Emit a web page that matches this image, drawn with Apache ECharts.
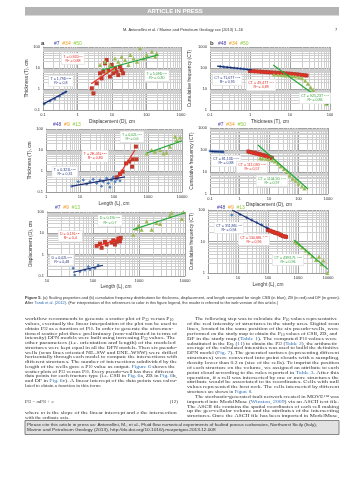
<!DOCTYPE html>
<html><head><meta charset="utf-8">
<script src="https://cdn.jsdelivr.net/npm/echarts@6/dist/echarts.min.js"></script>
<style>html,body{margin:0;padding:0;background:#fff}#c{width:359px;height:480px}</style>
</head><body><div id="c"></div>
<script>
// ================= DATA =================
// Panel a : Thickness (T) vs Displacement (D)  (#7 blue, #34 red, #50 green)
const aXTicks = [0.1, 1, 10, 100, 1000];
const aYTicks = [0.1, 1, 10, 100];
const aBlueX = [0.11, 0.16, 0.22, 0.3, 0.38, 0.45];
const aBlueY = [0.2, 0.27, 0.33, 0.45, 0.62, 0.72];
const aBlueFitX = [0.1, 0.5], aBlueFitY = [0.19, 0.78];
const aRedX = [2.6, 2.9, 3.6, 4.5, 5.0, 5.6, 6.3, 7.0, 7.8, 8.7, 9.8, 10.9, 12.2, 13.5, 15.2, 17, 19, 21];
const aRedY = [1.08, 0.62, 1.86, 5.6, 3.2, 6.7, 16.7, 24, 8, 3.9, 14, 5.6, 9.8, 6.7, 4.6, 11.5, 8, 5.6];
const aRedFitX = [2.5, 12], aRedFitY = [1.8, 10];
const aGreenX = [4.5, 6.3, 7, 8.7, 11, 12.2, 15.2, 19, 24, 30, 34, 42, 53, 65, 82, 102, 143, 180, 197];
const aGreenY = [14, 20, 6.7, 14, 9, 29, 20, 35, 24, 14, 42, 29, 20, 87, 29, 42, 60, 35, 50];
const aGreenFitX = [5, 220], aGreenFitY = [8, 42];
const aEq = [['T = 1,79D', '1,18', '0,8', 0.33, 2.4], ['T = 0,92D', '1,1', '0,88', 0.74, 27], ['T = 5,09D', '0,34', '0,30', 200, 4.2]];

// Panel b : Cumulative frequency vs Thickness (#48 blue, #34 red, #50 green)
const bXTicks = [0.1, 1, 10, 100];
const bYTicks = [1, 10, 100, 1000];
const bBlueX = [0.18, 0.22, 0.27, 0.33, 0.4, 0.48, 0.58, 0.7, 0.85, 1.0];
const bBlueY = [118, 112, 108, 104, 100, 96, 93, 90, 86, 83];
const bBlueFitX = [0.15, 1.1], bBlueFitY = [122, 82];
const bRedX = [1, 1.2, 1.4, 1.7, 2, 2.4, 2.8, 3.3, 4, 4.7, 5.5, 6.5, 7.7, 9, 10.5, 12.5, 14.5, 17, 20, 23, 26];
const bRedY = [72, 70, 69, 67, 66, 64, 63, 62, 60, 59, 58, 57, 55, 54, 53, 51, 50, 48, 46, 45, 44];
const bRedFitX = [1, 27], bRedFitY = [70, 44];
const bGreenX = [4, 5, 6, 7, 8, 10, 12, 14, 17, 20, 24, 28, 33, 38, 45, 55, 65, 80];
const bGreenY = [50, 48, 47, 46, 45, 44, 42, 40, 37, 33, 25, 18, 12, 9, 6, 4, 3, 2];
const bGreenFitX = [3.8, 90], bGreenFitY = [140, 1.8];
const bEq = [['CT = 71,07T', '-0,13', '0,95', 0.27, 27], ['CT = 49,47T', '-0,14', '0,89', 1.9, 15.5], ['CT = 925,23T', '-1,91', '0,86', 42, 3.7]];

// Panel c : Thickness vs Length (#48 blue, #9 red, #13 green)
const cXTicks = [1, 10, 100, 1000, 10000];
const cYTicks = [0.1, 1, 10, 100];
const cBlueX = [5.7, 8.9, 12.5, 15.8, 19.6, 24.5, 31, 38.7, 43, 48.5, 61, 68, 76, 85, 95, 107, 120, 134, 150];
const cBlueY = [0.19, 0.31, 0.37, 0.24, 0.31, 0.40, 0.26, 0.37, 0.19, 0.31, 0.45, 0.26, 0.17, 0.37, 0.5, 0.31, 0.40, 0.58, 0.34];
const cBlueFitX = [5.8, 210], cBlueFitY = [0.19, 0.52];
const cRedX = [120, 150, 180, 225, 280, 340, 355, 440, 460];
const cRedY = [0.5, 0.72, 0.93, 2.3, 2.8, 1.6, 3.6, 14.5, 3.6];
const cRedFitX = [130, 415], cRedFitY = [0.52, 10];
const cGreenX = [915, 1280, 1600, 2260, 2850, 3500, 4440, 6300, 7000, 8800];
const cGreenY = [6.9, 10, 8.3, 10, 6.9, 7.5, 14.5, 43, 30, 40];
const cGreenFitX = [930, 10000], cGreenFitY = [7.2, 27];
const cEq = [['T = 0,321L', '0,10', '0,31', 3.6, 0.9], ['T = 2E-05L', '2,58', '0,80', 28, 5.2], ['T = 0,02L', '0,69', '0,6', 340, 42]];

// Panel d : Cumulative frequency vs Displacement (#7 blue, #34 red, #50 green)
const dXTicks = [0.1, 1, 10, 100, 1000];
const dYTicks = [1, 10, 100, 1000];
const dBlueX = [0.1, 0.12, 0.14, 0.16, 0.19, 0.22, 0.25, 0.28];
const dBlueY = [90, 88, 87, 86, 85, 84, 83, 82];
const dBlueFitX = [0.1, 0.3], dBlueFitY = [87, 81];
const dRedX = [2, 2.3, 2.6, 3, 3.4, 3.9, 4.5, 5, 5.7, 6.5, 7.4, 8.4, 9.6, 11, 12.5];
const dRedY = [85, 81, 78, 75, 72, 69, 66, 63, 60, 58, 55, 52, 49, 46, 43];
const dRedFitX = [2, 12.5], dRedFitY = [82, 44];
const dGreenX = [5, 6, 8, 10, 13, 16, 20, 25, 32, 40, 50, 63, 80, 100, 130, 160];
const dGreenY = [43, 42, 40, 38, 34, 30, 24, 18, 14, 10, 7, 5, 4, 3, 2.2, 1.8];
const dGreenFitX = [4.2, 210], dGreenFitY = [170, 1.7];
const dEq = [['CT = 81,13D', '-0,04', '0,88', 0.35, 31.6], ['CT = 111,03D', '-0,35', '0,57', 2.65, 17], ['CT = 1104,9D', '-1,17', '0,97', 12.6, 3.9]];

// Panel e : Displacement vs Length (#7 blue, #9 red, #13 green)
const eXTicks = [10, 100, 1000, 10000];
const eYTicks = [0.1, 1, 10, 100];
const eBlueX = [37, 40, 52, 67, 79, 86, 110, 130];
const eBlueY = [0.23, 0.11, 0.16, 0.19, 0.27, 0.20, 0.23, 0.32];
const eBlueFitX = [37, 165], eBlueFitY = [0.15, 0.32];
const eRedX = [120, 142, 154, 182, 198, 254, 276, 300, 326, 355, 385, 400];
const eRedY = [2.6, 3.3, 2.1, 4.0, 3.0, 3.7, 4.7, 3.0, 4.0, 5.7, 4.2, 6.1];
const eRedFitX = [120, 420], eRedFitY = [2.5, 5.8];
const eGreenX = [750, 890, 970, 1140, 1470, 1880, 2400, 2870, 4700, 5100, 8500, 9200];
const eGreenY = [8.7, 16.6, 22, 15, 36, 15, 31, 28, 69, 92, 48, 98];
const eGreenFitX = [740, 10000], eGreenFitY = [15, 92];
const eEq = [['D = 0,02L', '0,54', '0,48', 21, 0.55], ['D = 0,19L', '0,54', '0,4', 32, 7.3], ['D = 0,19L', '0,57', '0,7', 234, 40]];

// Panel f : Cumulative frequency vs Length (#48 blue, #9 red, #13 green)
const fXTicks = [1, 10, 100, 1000, 10000];
const fYTicks = [1, 10, 100];
const fBlueX = [6.2, 11.7, 19.6, 28.6, 42, 61, 90, 102];
const fBlueY = [69, 72, 57, 48, 40, 34, 28, 26];
const fBlueFitX = [6.3, 107], fBlueFitY = [100, 25];
const fRedX = [100, 115, 130, 150, 170, 190, 210, 240, 270, 310, 350, 400];
const fRedY = [23, 22, 21, 20, 19, 18.5, 18, 17, 16, 15, 14.5, 14];
const fRedFitX = [100, 420], fRedFitY = [24, 14];
const fGreenX = [800, 900, 1100, 1400, 1800, 2300, 3000, 4000, 5000, 6100, 7000, 9500];
const fGreenY = [10, 9, 8, 6.5, 5.2, 4.3, 3.4, 2.6, 3.3, 1.9, 2.5, 1.0];
const fGreenFitX = [750, 10000], fGreenFitY = [11, 1.3];
const fEq = [['CT = 311,86L', '-0,5', '0,94', 5, 27], ['CT = 130,88L', '-0,37', '0,96', 34, 11.4], ['CT = 4393,7L', '-0,88', '0,96', 465, 2.6]];

// ================= BUILD =================
const SANS = 'Liberation Sans', SERIF = 'Liberation Serif';
const C = {
  blueM: '#4f81bd', blueL: '#1c2a6e', blueT: '#24357f',
  redM: '#c0392b', redL: '#ee2b22', redT: '#e2261e',
  greenM: '#9bbb59', greenL: '#24a83a', greenT: '#2f9e35'
};
const grids = [], xAxes = [], yAxes = [], series = [], graphics = [];
function fmt(v) { return String(+Number(v).toPrecision(6)); }
function minors(min, max) {
  const out = [];
  for (let e = Math.floor(Math.log10(min) + 1e-9); e < Math.log10(max) - 1e-9; e++) {
    for (let m = 2; m <= 9; m++) { const v = +(m * Math.pow(10, e)).toPrecision(6); if (v > min && v < max) out.push(v); }
  }
  return out;
}
function zip(a, b) { return a.map((v, k) => [v, b[k]]); }

function addPanel(p) {
  const i = grids.length;
  grids.push({ left: p.box[0], top: p.box[1], width: p.box[2], height: p.box[3] });
  const xmin = p.xt[0], xmax = p.xt[p.xt.length - 1], ymin = p.yt[0], ymax = p.yt[p.yt.length - 1];
  const lab = { fontSize: 4, color: '#333', fontFamily: SANS, formatter: v => fmt(v), showMinLabel: true, showMaxLabel: true };
  const common = { type: 'log', logBase: 10, gridIndex: i, nameLocation: 'middle',
    nameTextStyle: { fontSize: 4.8, color: '#333', fontFamily: SANS },
    axisLine: { show: true, onZero: false, lineStyle: { color: '#9a9a9a', width: 1 } }, axisTick: { show: false },
    axisLabel: Object.assign({ margin: 3 }, lab), splitLine: { show: true, lineStyle: { color: '#a2a2a2', width: 1 } } };
  xAxes.push(Object.assign({}, common, { min: xmin, max: xmax, name: p.xName, nameGap: p.xGap }));
  yAxes.push(Object.assign({}, common, { min: ymin, max: ymax, name: p.yName, nameGap: p.yGap }));
  // minor log grid lines (2..9 in each decade), drawn through the axes' scales
  const segs = minors(xmin, xmax).map(v => ({ coords: [[v, ymin], [v, ymax]] }))
    .concat(minors(ymin, ymax).map(v => ({ coords: [[xmin, v], [xmax, v]] })));
  series.push({ type: 'lines', coordinateSystem: 'cartesian2d', xAxisIndex: i, yAxisIndex: i, silent: true, z: 1,
    lineStyle: { color: '#cfcfcf', width: 1, opacity: 1, type: 'solid' }, data: segs, animation: false });
  const kinds = [
    { sym: 'diamond', size: 3.4, mc: C.blueM, lc: C.blueL, tc: C.blueT },
    { sym: 'rect', size: 4, mc: C.redM, lc: C.redL, tc: C.redT },
    { sym: 'triangle', size: 4.2, mc: C.greenM, lc: C.greenL, tc: C.greenT }
  ];
  p.groups.forEach((g, k) => {
    const st = kinds[k], e = p.eq[k];
    series.push({ type: 'scatter', xAxisIndex: i, yAxisIndex: i, symbol: st.sym, symbolSize: st.size, itemStyle: { color: st.mc, opacity: 1 }, data: zip(g[0], g[1]), z: 3, silent: true });
    series.push({ type: 'line', xAxisIndex: i, yAxisIndex: i, data: zip(g[2], g[3]), showSymbol: false, symbol: 'none', lineStyle: { color: st.lc, width: 1.2 }, z: 4, silent: true,
      markPoint: { symbol: 'rect', symbolSize: 0.1, itemStyle: { color: 'rgba(0,0,0,0)' }, silent: true,
        data: [{ coord: [e[3], e[4]] }],
        label: { show: true, position: 'inside', align: 'center', backgroundColor: '#fff', borderColor: '#d8d8d8', borderWidth: 0.5, padding: [1, 1.6],
          formatter: () => '{q|' + e[0] + '}{u|' + e[1] + '}\n{q|R}{u|2}{q| = ' + e[2] + '}',
          rich: { q: { fontSize: 3.6, color: st.tc, fontFamily: SANS, lineHeight: 4.4 },
                  u: { fontSize: 2.5, color: st.tc, fontFamily: SANS, lineHeight: 4.4, verticalAlign: 'top', padding: [0, 0, 1.5, 0] } } } } });
  });
  graphics.push({ type: 'text', x: p.leg[0], y: p.leg[1], silent: true,
    style: { text: '{p|' + p.ids[0] + '}  {o|' + p.ids[1] + '}  {g|' + p.ids[2] + '}', verticalAlign: 'middle', fontFamily: SANS, fontSize: 5,
      rich: { p: { fill: '#4a3fa6', color: '#4a3fa6', fontSize: 5, fontFamily: SANS }, o: { fill: '#f39a1e', color: '#f39a1e', fontSize: 5, fontFamily: SANS }, g: { fill: '#8fcf4a', color: '#8fcf4a', fontSize: 5, fontFamily: SANS } } } });
}

addPanel({ box: [43, 47, 138, 63], xt: aXTicks, yt: aYTicks, xName: 'Displacement (D), cm', yName: 'Thickness (T), cm', xGap: 9, yGap: 11,
  groups: [[aBlueX, aBlueY, aBlueFitX, aBlueFitY], [aRedX, aRedY, aRedFitX, aRedFitY], [aGreenX, aGreenY, aGreenFitX, aGreenFitY]], eq: aEq, ids: ['#7', '#34', '#50'], leg: [54, 43.5] });
addPanel({ box: [210, 47, 120, 63], xt: bXTicks, yt: bYTicks, xName: 'Thickness (T), cm', yName: 'Cumulative frequency (CT)', xGap: 9, yGap: 18,
  groups: [[bBlueX, bBlueY, bBlueFitX, bBlueFitY], [bRedX, bRedY, bRedFitX, bRedFitY], [bGreenX, bGreenY, bGreenFitX, bGreenFitY]], eq: bEq, ids: ['#48', '#34', '#50'], leg: [218, 43.5] });
addPanel({ box: [46, 129, 136, 63], xt: cXTicks, yt: cYTicks, xName: 'Length (L), cm', yName: 'Thickness (T), cm', xGap: 9, yGap: 11,
  groups: [[cBlueX, cBlueY, cBlueFitX, cBlueFitY], [cRedX, cRedY, cRedFitX, cRedFitY], [cGreenX, cGreenY, cGreenFitX, cGreenFitY]], eq: cEq, ids: ['#48', '#9', '#13'], leg: [53, 125] });
addPanel({ box: [210, 128, 118, 66], xt: dXTicks, yt: dYTicks, xName: 'Displacement (D), cm', yName: 'Cumulative frequency (CT)', xGap: 8, yGap: 13,
  groups: [[dBlueX, dBlueY, dBlueFitX, dBlueFitY], [dRedX, dRedY, dRedFitX, dRedFitY], [dGreenX, dGreenY, dGreenFitX, dGreenFitY]], eq: dEq, ids: ['#7', '#34', '#50'], leg: [218, 125] });
addPanel({ box: [47, 212, 138, 64], xt: eXTicks, yt: eYTicks, xName: 'Length (L), cm', yName: 'Displacement (D), cm', xGap: 8, yGap: 12,
  groups: [[eBlueX, eBlueY, eBlueFitX, eBlueFitY], [eRedX, eRedY, eRedFitX, eRedFitY], [eGreenX, eGreenY, eGreenFitX, eGreenFitY]], eq: eEq, ids: ['#7', '#9', '#13'], leg: [55, 208] });
addPanel({ box: [208, 210, 120, 63], xt: fXTicks, yt: fYTicks, xName: 'Lenght (L), cm', yName: 'Cumulative frequency (CT)', xGap: 9, yGap: 10,
  groups: [[fBlueX, fBlueY, fBlueFitX, fBlueFitY], [fRedX, fRedY, fRedFitX, fRedFitY], [fGreenX, fGreenY, fGreenFitX, fGreenFitY]], eq: fEq, ids: ['#48', '#9', '#13'], leg: [217, 207.5] });

// ================= PAGE TEXT =================
const mctx = document.createElement('canvas').getContext('2d');
function measure(t, size, fam, weight) { mctx.font = (weight || 'normal') + ' ' + size + 'px "' + fam + '"'; return mctx.measureText(t).width; }
const SUB = { fontSize: 3.4, fontFamily: SERIF, fill: '#333', color: '#333', padding: [2.2, 0, 0, 0] };
const LINK = { fontSize: 5, fontFamily: SERIF, fill: '#2f6db5', color: '#2f6db5' };
function addText(x, y, text, o) {
  o = o || {};
  const size = o.size || 5, fam = o.fam || SERIF, weight = o.weight || 'normal';
  const plain = text.replace(/\{(\w+)\|([^}]*)\}/g, '$2');
  let sx = 1;
  if (o.w) { const m = measure(plain, size, fam, weight); sx = Math.max(0.8, Math.min(1.25, o.w / m)); }
  graphics.push({ type: 'text', x: x, y: y, scaleX: sx, silent: true,
    style: { text: text, fontSize: size, fontFamily: fam, fontWeight: weight, fill: o.color || '#333', align: o.align || 'left', verticalAlign: 'middle',
      rich: { s: Object.assign({}, SUB), l: Object.assign({}, LINK, { fontSize: size, fontFamily: fam }),
        b: { fontSize: size, fontFamily: fam, fontWeight: 'bold', fill: o.color || '#333', color: o.color || '#333' },
        i: { fontSize: size, fontFamily: fam, fontStyle: 'italic', fill: o.color || '#333', color: o.color || '#333' } } } });
}

// header
graphics.push({ type: 'rect', shape: { x: 25, y: 7, width: 314, height: 8.5 }, style: { fill: '#b4b4b4' }, silent: true });
addText(175, 11.4, 'ARTICLE IN PRESS', { size: 6, fam: SANS, weight: 'bold', color: '#ffffff', align: 'center' });
addText(123, 30, 'M. Antonellini et al. / Marine and Petroleum Geology xxx (2013) 1\u201316', { size: 3.8, fam: SANS, w: 120 });
addText(335, 30, '7', { size: 4, fam: SANS });
addText(41, 43.5, 'a', { size: 6, fam: SANS, weight: 'bold' });
addText(210, 43.5, 'b', { size: 6, fam: SANS, weight: 'bold' });

// caption
addText(25, 298, '{b|Figure 5.} (a) Scaling properties and (b) cumulative frequency distributions for thickness, displacement, and length computed for single CSB (in blue), ZB (in red) and DF (in green).', { size: 3.6, fam: SANS, w: 314 });
addText(25, 303, 'After {l|Tondi et al. (2012)}. (For interpretation of the references to color in this figure legend, the reader is referred to the web version of this article.)', { size: 3.6, fam: SANS, w: 253 });

// left column
const leftLines = [
  'workflow recommends to generate a scatter plot of P{s|32} versus P{s|10}',
  'values, eventually the linear interpolation of the plot can be used to',
  'obtain P{s|32} as a function of P{s|10}. In order to generate the aforemen-',
  'tioned scatter plot three preliminary (non-calibrated in terms of',
  'intensity) DFN models were built using increasing P{s|32} values. The',
  'other parameters (i.e. orientation and length) of the modeled',
  'structures were kept equal in all the DFN models. Then six pseudo-',
  'wells (scan lines oriented NE\u2013SW and ENE\u2013WSW) were drilled',
  'horizontally through each model to compute the intersections with',
  'different structures. The number of intersections subdivided by the',
  'length of the wells gave a P{s|10} value as output. {l|Figure 6} shows the',
  'scatter plots of P{s|32} versus P{s|10}. Every pseudo-well has three different',
  'data points for each fracture type (i.e. CSB in {l|Fig. 6}a, ZB in {l|Fig. 6}b,',
  'and DF in {l|Fig. 6}c). A linear intercept of the data points was calcu-',
  'lated to obtain a function in this form:'
];
leftLines.forEach((t, k) => addText(25, 319 + k * 4.75, t, { w: k < leftLines.length - 1 ? 152 : 0 }));
addText(25, 401.5, 'P{s|32} = {i|m}P{s|10} + {i|c}', {});
addText(178, 401.5, '(12)', { align: 'right' });
addText(25, 413, 'where {i|m} is the slope of the linear intercept and {i|c} the intersection', { w: 152 });
addText(25, 418, 'with the ordinate axis.', {});

// right column
const rightLines = [
  'The following step was to calculate the P{s|10} values representative',
  'of the real intensity of structures in the study area. Digital scan',
  'lines, located in the same position of the six pseudo-wells, were',
  'performed on the study map to obtain the P{s|10} values of CSB, ZB, and',
  'DF in the study map ({l|Table 1}). The computed P{s|10} values were',
  'substituted in the Eq. ({l|11}) to obtain the P{s|32} ({l|Table 2}), the arithmetic',
  'average of the calculated intensities was used to build the definitive',
  'DFN model ({l|Fig. 7}). The generated surfaces (representing different',
  'structures) were converted into point clouds with a sampling',
  'density lower than 0.2 m (size of the cells). To imprint the position',
  'of each structure on the volume, we assigned an attribute to each',
  'point cloud according to the rules reported in {l|Table 3}. After this',
  'operation, if a cell was intersected by one or more structures the',
  'attribute would be associated to its coordinates. Cells with null',
  'values represented the host rock. The cells intersected by different',
  'structures are shown in {l|Figure 8}.',
  'The stochastic-generated fault network created in MOVE\u2122 was',
  'imported into ModelMuse ({l|Winston, 2009}) via an ASCII text file.',
  'The ASCII file contains the spatial coordinates of each cell making',
  'up the geo-cellular volume and the attributes of the intersecting',
  'structures. Once the ASCII file has been imported in ModelMuse,'
];
rightLines.forEach((t, k) => {
  const indent = (k === 0 || k === 16) ? 8 : 0;
  addText(187 + indent, 319 + k * 4.85, t, { w: k === 15 ? 0 : 152 - indent });
});

// citation box
graphics.push({ type: 'rect', shape: { x: 25, y: 420.5, width: 314, height: 14 }, style: { fill: '#e2e2e2', stroke: '#6b6b6b', lineWidth: 0.8 }, silent: true });
addText(27, 425.3, 'Please cite this article in press as: Antonellini, M., et al., Fluid flow numerical experiments of faulted porous carbonates, Northwest Sicily (Italy),', { size: 3.8, fam: SANS, w: 290 });
addText(27, 430.3, 'Marine and Petroleum Geology (2013), http://dx.doi.org/10.1016/j.marpetgeo.2013.12.008', { size: 3.8, fam: SANS, w: 203 });

const chart = echarts.init(document.getElementById('c'), null, { renderer: 'canvas' });
chart.setOption({
  animation: false,
  backgroundColor: '#ffffff',
  grid: grids, xAxis: xAxes, yAxis: yAxes, series: series,
  graphic: { elements: graphics }
});
</script></body></html>
